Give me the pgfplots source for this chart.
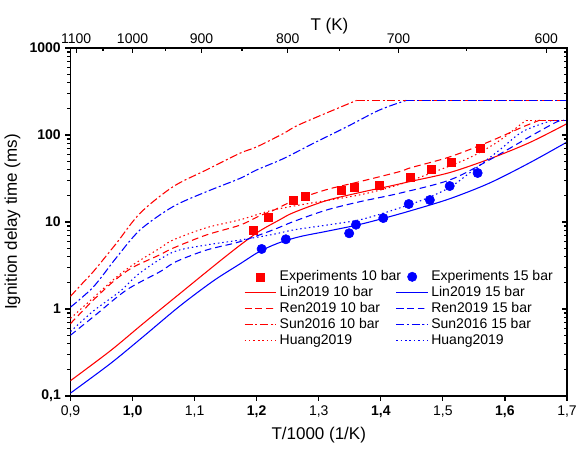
\documentclass[border=0pt]{standalone}
\usepackage{fontspec}
\setmainfont{Liberation Sans}
\usepackage{pgfplots}
\pgfplotsset{compat=1.18}
\begin{document}
\begin{tikzpicture}
\pgfplotsset{
  dashA/.style={dash pattern=on 5pt off 3pt},
  dashdotA/.style={dash pattern=on 6pt off 2pt on 1.5pt off 2pt},
  dotA/.style={dash pattern=on 1.1pt off 2.2pt},
  crv/.style={line width=0.8pt, no marks, smooth, tension=0.5},
}
\begin{axis}[name=main,
  width=372.375pt, height=261pt, scale only axis,
  xmin=0.9, xmax=1.7, ymode=log, ymin=0.1, ymax=1000,
  xtick={0.9,1,1.1,1.2,1.3,1.4,1.5,1.6,1.7},
  xticklabels={{0,9},{\textbf{1,0}},{1,1},{\textbf{1,2}},{1,3},{\textbf{1,4}},{1,5},{\textbf{1,6}},{1,7}},
  ytick={0.1,1,10,100,1000},
  yticklabels={{\textbf{0,1}},{\textbf{1}},{\textbf{10}},{\textbf{100}},{\textbf{1000}}},
  minor ytick={0.2,0.3,0.4,0.5,0.6,0.7,0.8,0.9,2,3,4,5,6,7,8,9,20,30,40,50,60,70,80,90,200,300,400,500,600,700,800,900},
  xtick pos=left, ytick pos=left, tick align=outside,
  major tick length=3.75pt, minor tick length=2.25pt,
  axis line style={line width=1.1pt},
  every tick/.style={black, line width=0.9pt},
  tick label style={font=\fontsize{10.5}{12}\selectfont},
  xlabel={T/1000 (1/K)}, ylabel={Ignition delay time (ms)},
  label style={font=\fontsize{12.75}{14}\selectfont},
  legend columns=2, legend cell align=left,
  legend style={draw=none, fill=none, at={(0.341,0.376)}, anchor=north west,
    font=\fontsize{10.5}{12}\selectfont, row sep=-1.2pt,
    /tikz/every even column/.append style={column sep=-6pt}},
  legend image code/.code={\draw[mark repeat=2,mark phase=2,#1] plot coordinates {(0cm,0cm) (0.42cm,0cm) (0.84cm,0cm)};},
]
% Experiments 10 bar
\addplot[only marks, mark=square*, mark size=3pt, color=red] coordinates {
(1.195,8.0) (1.218,11.2) (1.259,17.9) (1.279,19.7) (1.337,23.3) (1.358,25.0) (1.398,26.1) (1.448,32.9) (1.482,39.9) (1.513,48.6) (1.561,70.9)};
\addlegendentry{Experiments 10 bar}
% Experiments 15 bar
\addplot[only marks, mark=*, mark size=3.5pt, color=blue] coordinates {
(1.208,4.9) (1.247,6.33) (1.349,7.42) (1.36,9.31) (1.404,11.1) (1.445,16.1) (1.479,17.9) (1.511,25.9) (1.556,36.6)};
\addlegendentry{Experiments 15 bar}
% Lin2019 10 bar
\addplot[red, crv] coordinates {
(0.9,0.15) (0.964,0.33) (1.017,0.68) (1.076,1.5) (1.135,3.3) (1.173,5.4) (1.205,7.9) (1.237,10.6) (1.259,12.8) (1.312,17.6) (1.366,21.8) (1.414,25.8) (1.45,29.5) (1.511,37) (1.575,53) (1.64,82) (1.7,135)};
\addlegendentry{Lin2019 10 bar}
% Lin2019 15 bar
\addplot[blue, crv] coordinates {
(0.9,0.108) (0.964,0.235) (1.017,0.48) (1.076,1.08) (1.13,2.1) (1.173,3.3) (1.205,4.6) (1.237,5.8) (1.27,6.8) (1.312,7.8) (1.361,9.2) (1.404,11.0) (1.45,13.6) (1.511,18.5) (1.575,28) (1.64,48) (1.7,83)};
\addlegendentry{Lin2019 15 bar}
% Ren2019 10 bar
\addplot[red, crv, dashA] coordinates {
(0.9,0.68) (0.937,1.27) (0.97,2.1) (1.0,3.0) (1.044,4.2) (1.065,5.0) (1.119,7.1) (1.173,9.2) (1.205,11.8) (1.226,13.5) (1.259,17.5) (1.312,23.5) (1.366,29.1) (1.43,37.9) (1.448,42) (1.511,56) (1.575,84) (1.629,124) (1.656,148)};
\addlegendentry{Ren2019 10 bar}
% Ren2019 15 bar
\addplot[blue, crv, dashA] coordinates {
(0.9,0.5) (0.937,0.815) (0.99,1.65) (1.044,2.68) (1.07,3.5) (1.119,4.76) (1.173,5.94) (1.226,8.1) (1.259,10.1) (1.312,13.7) (1.366,17.1) (1.43,21.4) (1.511,30.4) (1.575,51.7) (1.64,95.6) (1.683,141) (1.695,148)};
\addlegendentry{Ren2019 15 bar}
% Sun2016 10 bar
\addplot[red, crv, dashdotA] coordinates {
(0.9,1.4) (0.92,2.0) (0.937,2.7) (0.974,5.7) (1.012,12.6) (1.065,25.4) (1.119,39.7) (1.173,61.7) (1.2,73) (1.243,104) (1.27,133) (1.361,250)};
\addlegendentry{Sun2016 10 bar}
% Sun2016 15 bar
\addplot[blue, crv, dashdotA] coordinates {
(0.9,1.05) (0.937,1.8) (0.974,3.9) (1.012,8.1) (1.065,15.0) (1.119,22.3) (1.173,31.7) (1.2,39.7) (1.243,53.5) (1.291,80) (1.345,124) (1.398,194) (1.441,250)};
\addlegendentry{Sun2016 15 bar}
% Huang2019 10 bar
\addplot[red, crv, dotA] coordinates {
(0.9,0.78) (0.937,1.35) (0.97,2.2) (1.0,3.2) (1.044,5.0) (1.065,6.2) (1.119,8.6) (1.173,10.6) (1.226,13.7) (1.285,16.4) (1.366,20.5) (1.43,27) (1.511,44) (1.55,58) (1.59,85) (1.634,148)};
\addlegendentry{Huang2019}
% Huang2019 15 bar
\addplot[blue, crv, dotA] coordinates {
(0.9,0.55) (0.937,0.95) (0.98,1.6) (1.012,2.6) (1.065,4.5) (1.119,5.44) (1.173,6.2) (1.226,7.2) (1.259,8.1) (1.312,9.2) (1.366,10.6) (1.414,13.3) (1.468,18) (1.511,25) (1.548,39) (1.591,67) (1.629,110) (1.677,148)};
\addlegendentry{Huang2019}
% flat caps (same series, continued)
\addplot[red, line width=0.8pt, no marks, dashdotA, forget plot] coordinates {(1.361,250) (1.7,250)};
\addplot[blue, line width=0.8pt, no marks, dashdotA, forget plot] coordinates {(1.441,250) (1.7,250)};
\addplot[red, line width=0.8pt, no marks, dashA, forget plot] coordinates {(1.656,148) (1.7,148)};
\addplot[blue, line width=0.8pt, no marks, dashA, forget plot] coordinates {(1.695,148) (1.7,148)};
\addplot[red, line width=0.8pt, no marks, dotA, forget plot] coordinates {(1.634,148) (1.7,148)};
\addplot[blue, line width=0.8pt, no marks, dotA, forget plot] coordinates {(1.677,148) (1.7,148)};
\end{axis}
\begin{axis}[
  width=372.375pt, height=261pt, scale only axis,
  xmin=0.9, xmax=1.7, ymode=log, ymin=0.1, ymax=1000,
  axis x line*=top, axis y line*=right, axis line style={-, line width=1.1pt},
  tick align=inside,
  major tick length=3.75pt, minor tick length=2.25pt,
  every tick/.style={black, line width=0.9pt},
  xtick={0.909091,1,1.111111,1.25,1.428571,1.666667},
  xticklabels={1100,1000,900,800,700,600},
  minor xtick={0.952381,1.052632,1.176471,1.333333,1.538462},
  ytick={0.1,1,10,100,1000}, yticklabels={},
  minor ytick={0.2,0.3,0.4,0.5,0.6,0.7,0.8,0.9,2,3,4,5,6,7,8,9,20,30,40,50,60,70,80,90,200,300,400,500,600,700,800,900},
  tick label style={font=\fontsize{10.5}{12}\selectfont},
  xlabel={T (K)},
  xlabel style={font=\fontsize{12.75}{14}\selectfont, xshift=8pt, yshift=-7pt},
]
\end{axis}
\pgfresetboundingbox
\path ([xshift=-52.875pt, yshift=-39.75pt]main.south west) rectangle ([xshift=9pt, yshift=36pt]main.north east);
\end{tikzpicture}
\end{document}
